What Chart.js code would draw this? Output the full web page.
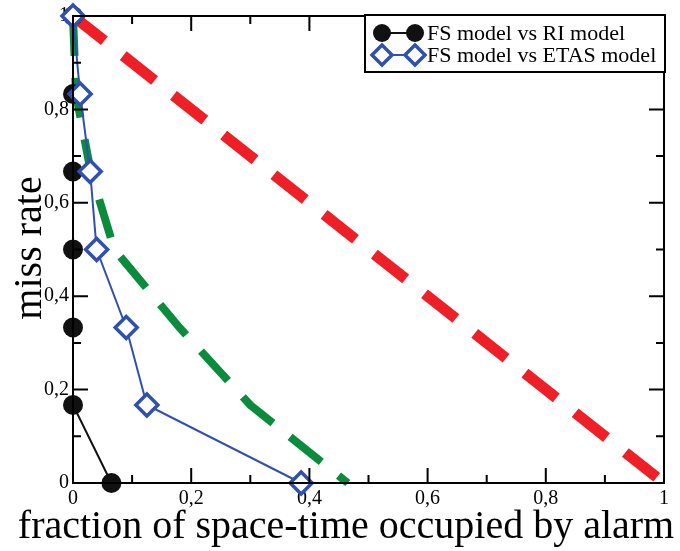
<!DOCTYPE html>
<html>
<head>
<meta charset="utf-8">
<script src="https://cdn.jsdelivr.net/npm/chart.js@4"></script>
<style>
  html, body { margin: 0; background: #fff; }
</style>
</head>
<body>
<canvas id="chart" width="680" height="551"></canvas>
<script>
// miss rate levels shared by all curves
const missRate = [1, 0.833, 0.667, 0.5, 0.333, 0.167, 0];
// fraction of space-time occupied by alarm, per curve
const riFraction = [0, 0, 0, 0, 0, 0, 0.065];
const etasFraction = [0, 0.012, 0.029, 0.04, 0.09, 0.125, 0.386];
const greenFraction = [0, 0.005, 0.03, 0.07, 0.18, 0.3, 0.465];
const diagFraction = [0, 1];
const diagMiss = [1, 0];
const legendLabels = ["FS model vs RI model", "FS model vs ETAS model"];
const xTitle = "fraction of space-time occupied by alarm";
const yTitle = "miss rate";

const serif = "'Liberation Serif', 'Times New Roman', serif";

function pts(xs, ys) {
    return xs.map((v, i) => ({ x: v, y: ys[i] }));
}
function fmt(v) {
    return String(Math.round(v * 10) / 10).replace(".", ",");
}

// frame with inward ticks on all four sides, plus titles and legend
const framePlugin = {
    id: "frame",
    afterDatasetsDraw(chart) {
        const { ctx, chartArea: a, scales: { x, y } } = chart;
        ctx.save();
        ctx.strokeStyle = "#000";
        ctx.lineWidth = 2;
        ctx.strokeRect(a.left, a.top, a.right - a.left, a.bottom - a.top);
        ctx.beginPath();
        for (let i = 1; i < 10; i++) {
            const v = i / 10;
            const len = i % 2 ? 8 : 15;
            const px = x.getPixelForValue(v);
            const py = y.getPixelForValue(v);
            ctx.moveTo(px, a.bottom); ctx.lineTo(px, a.bottom - len);
            ctx.moveTo(px, a.top); ctx.lineTo(px, a.top + len);
            ctx.moveTo(a.left, py); ctx.lineTo(a.left + len, py);
            ctx.moveTo(a.right, py); ctx.lineTo(a.right - len, py);
        }
        ctx.stroke();
        ctx.restore();
    },
    afterDraw(chart) {
        const { ctx, chartArea: a } = chart;
        ctx.save();
        ctx.fillStyle = "#000";
        ctx.textAlign = "center";
        ctx.textBaseline = "middle";
        ctx.font = "40px " + serif;
        ctx.fillText(xTitle, 346, 527);
        ctx.translate(30, 248);
        ctx.rotate(-Math.PI / 2);
        ctx.fillText(yTitle, 0, 0);
        ctx.restore();

        // legend box
        const bx = a.right - 299, by = a.top - 1, bw = 300, bh = 57;
        ctx.save();
        ctx.fillStyle = "#fff";
        ctx.fillRect(bx, by, bw, bh);
        ctx.strokeStyle = "#000";
        ctx.lineWidth = 2;
        ctx.strokeRect(bx, by, bw, bh);
        ctx.font = "22px " + serif;
        ctx.textBaseline = "middle";
        ctx.textAlign = "left";
        const rows = [chart.data.datasets[0], chart.data.datasets[1]];
        rows.forEach((ds, i) => {
            const cy = by + 18 + i * 22;
            const x1 = bx + 17, x2 = bx + 50;
            ctx.strokeStyle = ds.borderColor;
            ctx.lineWidth = 2;
            ctx.beginPath();
            ctx.moveTo(x1, cy); ctx.lineTo(x2, cy);
            ctx.stroke();
            [x1, x2].forEach(mx => {
                const r = ds.pointStyle === "circle" ? 9 : 10;
                ctx.fillStyle = ds.pointBackgroundColor;
                ctx.strokeStyle = ds.pointBorderColor;
                ctx.lineWidth = ds.pointBorderWidth;
                ctx.beginPath();
                if (ds.pointStyle === "circle") {
                    ctx.arc(mx, cy, r, 0, Math.PI * 2);
                } else {
                    ctx.moveTo(mx, cy - r); ctx.lineTo(mx + r, cy);
                    ctx.lineTo(mx, cy + r); ctx.lineTo(mx - r, cy);
                    ctx.closePath();
                }
                ctx.fill();
                if (ds.pointBorderWidth) ctx.stroke();
            });
            ctx.fillStyle = "#000";
            ctx.fillText(legendLabels[i], x2 + 12, cy + 1);
        });
        ctx.restore();
    }
};

new Chart("chart", {
    type: "line",
    data: {
        datasets: [
            {
                label: legendLabels[0],
                data: pts(riFraction, missRate),
                borderColor: "#111",
                borderWidth: 2,
                pointStyle: "circle",
                pointRadius: 10,
                pointBackgroundColor: "#111",
                pointBorderColor: "#111",
                pointBorderWidth: 0,
                order: 1
            },
            {
                label: legendLabels[1],
                data: pts(etasFraction, missRate),
                borderColor: "#3050b0",
                borderWidth: 2,
                pointStyle: "rectRot",
                pointRadius: 11,
                pointBackgroundColor: "#fff",
                pointBorderColor: "#3050b0",
                pointBorderWidth: 3.5,
                order: 0
            },
            {
                label: "threshold",
                data: pts(greenFraction, missRate),
                borderColor: "#0b8c3c",
                borderWidth: 8,
                borderDash: [40, 22],
                pointRadius: 0,
                order: 2
            },
            {
                label: "random",
                data: pts(diagFraction, diagMiss),
                borderColor: "#ee1f26",
                borderWidth: 11,
                borderDash: [40, 24],
                pointRadius: 0,
                order: 3
            }
        ]
    },
    options: {
        responsive: false,
        animation: false,
        devicePixelRatio: 1,
        clip: false,
        layout: { padding: { top: 10, right: 16, left: 0, bottom: 0 } },
        plugins: {
            legend: { display: false },
            tooltip: { enabled: false }
        },
        scales: {
            x: {
                type: "linear",
                min: 0,
                max: 1,
                grid: { display: false, drawTicks: false },
                border: { display: false },
                ticks: {
                    stepSize: 0.2,
                    color: "#000",
                    padding: 4,
                    font: { family: serif, size: 20 },
                    callback: v => fmt(v)
                },
                afterFit(scale) { scale.height = 68; }
            },
            y: {
                type: "linear",
                min: 0,
                max: 1,
                grid: { display: false, drawTicks: false },
                border: { display: false },
                ticks: {
                    stepSize: 0.2,
                    color: "#000",
                    padding: 4,
                    font: { family: serif, size: 20 },
                    callback: v => fmt(v)
                },
                afterFit(scale) { scale.width = 73; }
            }
        }
    },
    plugins: [framePlugin]
});
</script>
</body>
</html>
